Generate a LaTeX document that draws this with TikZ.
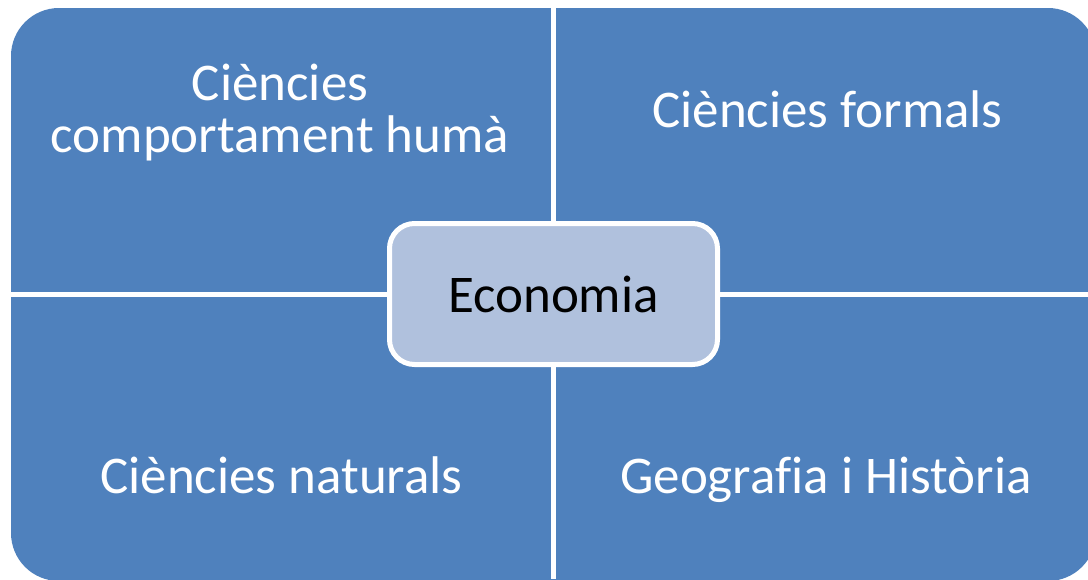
\documentclass[tikz,border=0pt]{standalone}
\usepackage{fontspec}
\setmainfont{Carlito}[Ligatures=NoCommon]
\usepackage{tikz}

\definecolor{quadblue}{RGB}{79,129,189}
\definecolor{centreblue}{RGB}{176,193,221}

\tikzset{
	quadtext/.style={text=white, anchor=base, align=center, font=\fontsize{53}{52}\selectfont},
	centrebox/.style={shape=rectangle, rounded corners=25, draw=white, line width=5, fill=centreblue, minimum width=328, minimum height=141, font=\fontsize{53}{52}\selectfont}
}

\begin{document}
\begin{tikzpicture}[x=1pt, y=-1pt]
	
	\useasboundingbox (0, 0) rectangle (1088, 579);
	
	\fill[quadblue, rounded corners=48] (11, 8) rectangle (1096, 581);
	\fill[white] (551, 0) rectangle (556, 579);
	\fill[white] (0, 292) rectangle (1088, 297);
	
	\node[quadtext] (comport) at (280, 152)     {Ciències\\comportament humà};
	\node[quadtext] (formals) at (827.5, 127)   {Ciències formals};
	\node[quadtext] (naturals) at (281.5, 493)  {Ciències naturals};
	\node[quadtext] (geohist) at (826, 493)     {Geografia i Història};
	
	\node[centrebox] (eco) at (553.5, 294)      {Economia};
	
\end{tikzpicture}
\end{document}
